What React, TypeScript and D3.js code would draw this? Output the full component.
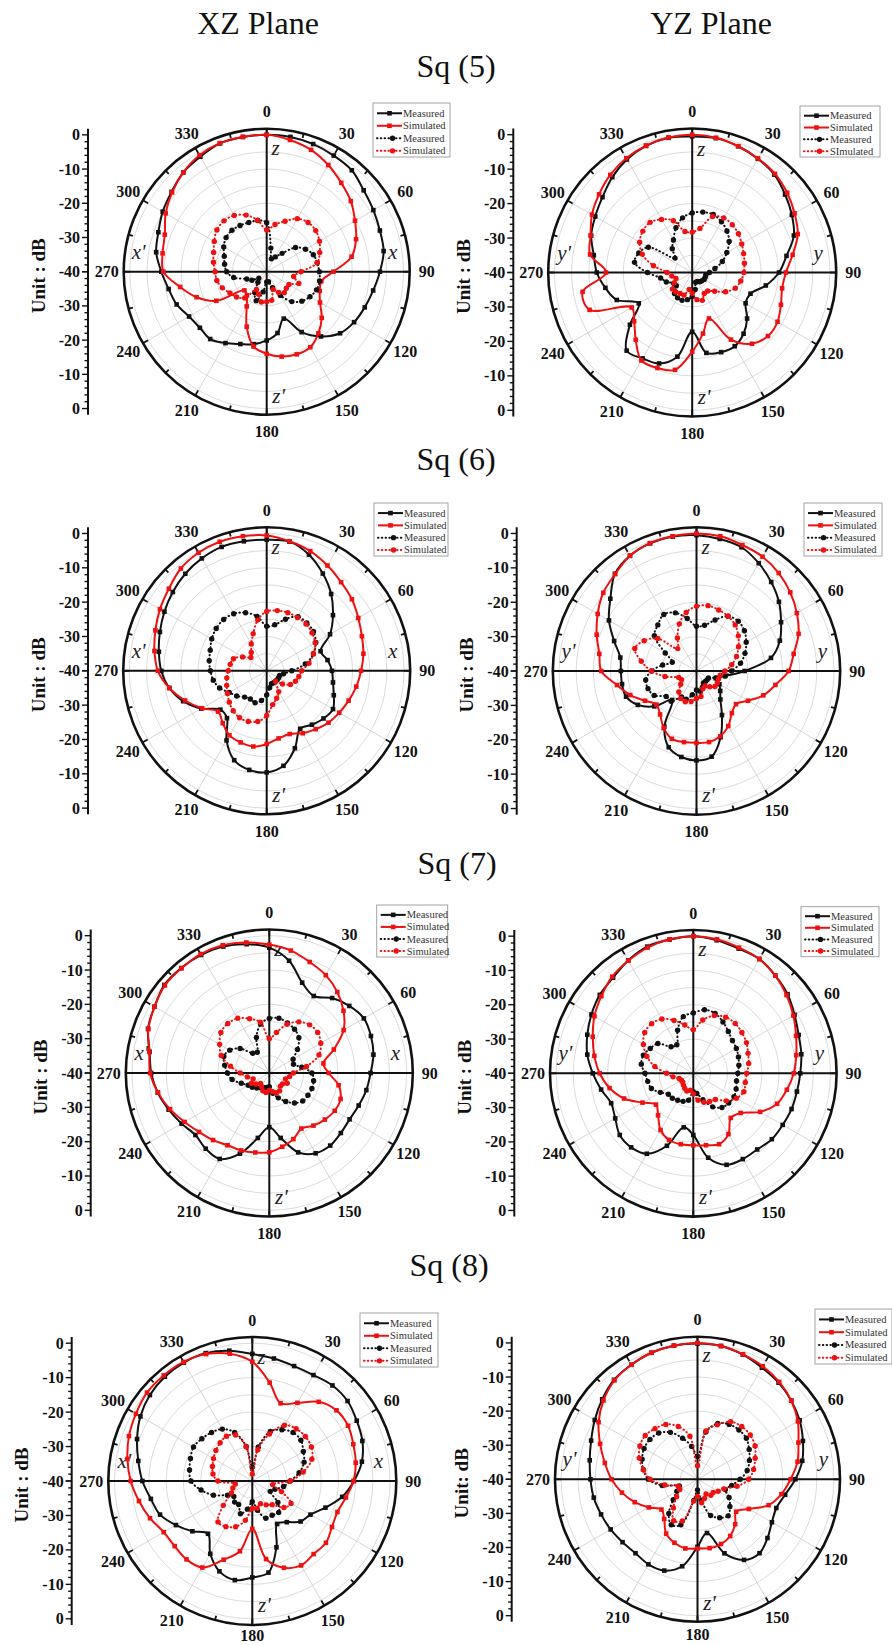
import React, { useEffect, useRef } from 'react';
import * as d3 from 'd3';

// angles of the sampled points (degrees, clockwise from top)
const angles = [
  0, 10, 20, 30, 40, 50, 60, 70, 80, 90,
  100, 110, 120, 130, 140, 150, 160, 170, 180, 190,
  200, 210, 220, 230, 240, 250, 260, 270, 280, 290,
  300, 310, 320, 330, 340, 350,
];
const angleLabels = [0, 30, 60, 90, 120, 150, 180, 210, 240, 270, 300, 330];
const dbTickLabels = [0, -10, -20, -30, -40];
const planeTitles = ['XZ Plane', 'YZ Plane'];
const rowTitles = ['Sq (5)', 'Sq (6)', 'Sq (7)', 'Sq (8)'];
const legendLabels = ['Measured', 'Simulated', 'Measured', 'Simulated'];
const legendLabelsSq5yz = ['Measured', 'Simulated', 'Measured', 'SImulated'];

// ---- Sq (5) XZ
const sq5xzMeasCo = [
  0, 0, -0.3, -0.8, -1.3, -3, -4, -4.8, -5.3, -6.9,
  -8.4, -9.5, -10.5, -12, -15.3, -19.6, -25.4, -21.8, -19.9, -18.5,
  -17.5, -15.9, -14.3, -14.5, -13.8, -12, -10.9, -9.2, -7.2, -6.3,
  -4.9, -3.7, -2.1, -1.2, -0.1, 0,
];
const sq5xzSimCo = [
  0, -0.9, -2.1, -4, -6.1, -7.9, -10.2, -12.2, -14.8, -20.5,
  -23.8, -23.5, -22, -19, -16.5, -14.5, -14.3, -14.8, -16, -17.8,
  -22.9, -28.3, -31, -31.5, -23, -18.2, -14.3, -9.8, -9.1, -8.3,
  -5.9, -3.9, -2.1, -0.7, 0, 0,
];
const sq5xzMeasX = [
  -25.7, -33, -36, -35, -33, -29, -26.9, -25.5, -25, -24.6,
  -24.3, -24.5, -25.4, -26.6, -28.6, -32, -35, -37, -37, -34,
  -31, -33, -36, -37, -35, -33.8, -30.2, -28.3, -27.5, -26.8,
  -25.5, -24.5, -24.2, -24.4, -24.7, -24.8,
];
const sq5xzSimX = [
  -27.8, -26, -24.3, -22.1, -21.2, -21.3, -22.2, -23.5, -25, -30,
  -32, -30, -32.5, -32.5, -32, -33, -34.5, -31.5, -31.2, -31,
  -33, -34, -30, -28.5, -27.6, -26.2, -25.2, -24.9, -24.2, -23.5,
  -22.3, -21, -20.6, -21, -22.4, -24.7,
];

// ---- Sq (5) YZ
const sq5yzMeasCo = [
  -0.5, -0.4, -1, -1.9, -2.9, -4.8, -6.6, -8.6, -12.2, -14.8,
  -18.3, -22, -22.1, -19.2, -16.8, -15.3, -15.4, -16.3, -22.8, -15.2,
  -11.9, -11.2, -10.4, -16.4, -22.1, -16.7, -14.4, -12.3, -11, -8.8,
  -7.5, -6, -3.9, -2.1, -0.9, -0.3,
];
const sq5yzSimCo = [
  0, -0.3, -1, -1.8, -2.6, -4, -5.7, -7.4, -10.4, -12.8,
  -13.5, -12.6, -11.4, -11.3, -13, -17.5, -25.8, -22, -17, -11.3,
  -10.5, -10.5, -14.5, -18, -19.7, -8.3, -7.7, -15, -9.9, -8.6,
  -6.4, -4.7, -3, -1.7, -0.8, -0.2,
];
const sq5yzMeasX = [
  -22.7, -22.2, -22.1, -23, -24.3, -26, -28.4, -30.7, -33.3, -35,
  -36, -36, -36, -36.3, -36.5, -37, -37, -35, -33, -32,
  -31.4, -31.5, -32, -34, -33.8, -32, -30.7, -27, -23, -23.5,
  -25.3, -33.5, -31, -29.1, -26.2, -23.9,
];
const sq5yzSimX = [
  -28.3, -27, -22.7, -21.7, -21.9, -22.5, -23.4, -24.1, -24.6, -25,
  -25.7, -26.7, -28.8, -31.5, -33, -33, -31.4, -32, -34, -35,
  -33, -33, -32.6, -32.5, -34, -35, -34, -32.7, -28.6, -24.6,
  -22.4, -21.3, -21, -22.2, -24, -27.9,
];

// ---- Sq (6) XZ
const sq6xzMeasCo = [
  -1.8, -1.8, -4, -7.3, -10.8, -14.8, -18.7, -23.3, -22, -21,
  -20.4, -19.2, -17.7, -18.4, -19.5, -20.5, -16, -11.9, -10.4, -10.7,
  -12.3, -16.6, -22, -22.4, -18, -14.1, -11.2, -9.3, -8.1, -6.9,
  -5.6, -4.3, -3.1, -2.2, -1.6, -1.7,
];
const sq6xzSimCo = [
  -0.6, -1.7, -2.9, -4.6, -6.3, -7.6, -9.2, -10.5, -11.4, -12.5,
  -13.5, -14.6, -15.6, -16.5, -17.8, -19, -20.4, -20, -18.7, -17.6,
  -17.8, -18.3, -20.1, -21.5, -18.2, -14.7, -11.2, -8.3, -6.8, -5.5,
  -4.1, -2.8, -1.1, -0.3, 0, -0.2,
];
const sq6xzMeasX = [
  -27, -26.4, -24, -21.8, -21.8, -22.2, -23.5, -25.5, -28.6, -32.7,
  -35, -36, -36, -36, -36, -36, -36, -35, -33, -31.2,
  -30.1, -30.5, -30, -28.6, -27.4, -25.4, -24.2, -23.6, -23, -22.5,
  -21.5, -20.8, -20.5, -20.8, -22, -23.9,
];
const sq6xzSimX = [
  -22.7, -22.2, -22, -22.1, -22.2, -22.8, -23.7, -25.5, -27.5, -29.8,
  -30.5, -31.1, -32, -34, -36, -33, -31.5, -30, -27, -25,
  -24.3, -24.2, -24.8, -25.8, -26.8, -27.6, -28.2, -28.8, -29.2, -29.7,
  -31.9, -34, -33, -31, -28.5, -25,
];

// ---- Sq (6) YZ
const sq6yzMeasCo = [
  -0.5, -1, -1.7, -3.8, -6.2, -8.7, -11.6, -14.2, -18, -26,
  -31.6, -34, -32.3, -31, -29.2, -25.2, -19.5, -14.7, -14, -14.6,
  -16.4, -21.3, -29, -24, -20.3, -18.2, -18, -18, -17.5, -14.5,
  -10.6, -7.3, -3.1, -1.3, -0.5, -0.3,
];
const sq6yzSimCo = [
  0, -0.2, -1, -1.6, -2.8, -4.4, -6.3, -8.4, -11.3, -13.2,
  -16.7, -19.3, -22.7, -25, -24, -21.5, -19.8, -19, -19.1, -19,
  -19, -20.9, -23.5, -24.8, -22.7, -19.5, -16.5, -12.3, -11.3, -9.1,
  -6.8, -4.6, -3.2, -1.3, -0.4, -0.2,
];
const sq6yzMeasX = [
  -27, -26.5, -24.2, -21.6, -21.1, -21.8, -23.3, -25, -27, -29.8,
  -31.5, -34, -36, -36, -36, -36, -35, -34, -34.5, -33,
  -31.3, -31.3, -28.5, -28.5, -25.8, -25, -25, -26.9, -30, -32.5,
  -29.5, -24, -22.5, -21, -22, -24.5,
];
const sq6yzSimX = [
  -21.2, -20.7, -21.1, -21.6, -22.5, -24.1, -25.9, -27.6, -29.6, -31.7,
  -33, -33.2, -33, -33, -34, -35, -34.5, -32.5, -32, -31,
  -30.5, -30.8, -32, -34, -35, -34.5, -30.7, -26.9, -23.7, -20.9,
  -22.4, -25.3, -31.5, -28.9, -25.4, -22.7,
];

// ---- Sq (7) XZ
const sq7xzMeasCo = [
  -3.5, -6.8, -12, -14.1, -11.5, -9.6, -8.2, -8.5, -9.2, -10.5,
  -11.3, -12.3, -13, -12.8, -12.4, -13, -15.4, -20.8, -24.2, -20.8,
  -15, -11.1, -11.2, -11.9, -10.5, -8.8, -7, -5.6, -4.6, -2.4,
  -1.4, -0.1, -0.1, -0.3, -0.8, -1.9,
];
const sq7xzSimCo = [
  -2.6, -3.8, -5.6, -7.1, -9.2, -11.8, -15, -20, -24, -22.7,
  -19.5, -17.9, -18, -18.9, -20, -21.3, -19.5, -18.2, -16.9, -16.5,
  -16, -15.7, -14.5, -13.3, -11.5, -9.2, -7.1, -5.3, -4.5, -2.5,
  -1.4, -0.3, -0.2, 0, -0.4, -1.4,
];
const sq7xzMeasX = [
  -24.1, -23.8, -24.5, -25.3, -26.6, -29.3, -32, -32.5, -30.4, -27.6,
  -26.9, -26.8, -27, -27.3, -28.6, -30.4, -32.3, -34, -36, -35.7,
  -35.5, -35, -34.3, -33.5, -32.9, -31.3, -29, -27.8, -26.8, -25.9,
  -26.7, -28.9, -32.5, -33, -29, -25.5,
];
const sq7xzSimX = [
  -30, -28, -24.9, -22.8, -21.7, -21.6, -22.7, -24.6, -29, -33,
  -34, -35, -34, -35, -35, -34, -33.9, -34.5, -35, -34.2,
  -34.5, -35.5, -36, -35, -34, -35, -33.5, -31.5, -28.5, -25.1,
  -23.3, -21.6, -21.2, -21.6, -23.2, -25,
];

// ---- Sq (7) YZ
const sq7yzMeasCo = [
  0, -0.6, -1.3, -1.5, -2.8, -4.1, -5.9, -7.3, -8, -8.8,
  -9.3, -9.5, -9.9, -10.1, -11, -11.1, -11.6, -15, -22, -24,
  -17.5, -12.9, -11.8, -12, -13.7, -14.5, -12.7, -10.7, -8.6, -7.1,
  -5.7, -4.4, -3.6, -2, -0.7, -0.4,
];
const sq7yzSimCo = [
  0, -0.3, -1, -1.5, -2.8, -4.5, -6.3, -8.1, -9.5, -10.7,
  -12.3, -14, -17.5, -22, -23, -19.5, -18, -18.7, -19, -19,
  -19.3, -20.9, -24, -25.8, -22.9, -18.5, -15.2, -12.7, -10.7, -8.8,
  -6.7, -5, -3.2, -2.1, -1, -0.3,
];
const sq7yzMeasX = [
  -22.4, -21.2, -21.4, -22.7, -24.1, -25.1, -25.5, -26, -26.5, -27,
  -27.2, -26.7, -26.3, -26.5, -27, -28.7, -31.8, -34, -34.6, -32,
  -31.3, -30.9, -30.5, -30.5, -28.9, -27, -26.5, -25.9, -24.6, -24.5,
  -25.5, -26.5, -29.9, -30.4, -26.6, -23.2,
];
const sq7yzSimX = [
  -27.3, -24.2, -22.1, -21.1, -21, -21.5, -22.1, -23, -23.6, -24.4,
  -24.6, -24.3, -25.5, -27.5, -30, -30.5, -31, -32, -34, -35,
  -34.5, -35, -35.5, -36, -36, -35.6, -34, -32.2, -28.6, -25.6,
  -23.2, -21.5, -21.1, -21.7, -23.6, -25.7,
];

// ---- Sq (8) XZ
const sq8xzMeasCo = [
  -3.1, -3.9, -4.5, -4.5, -3.8, -3.9, -5, -6, -7.7, -10.5,
  -13.5, -17.4, -20.5, -21.7, -24.4, -25.6, -19.5, -13, -12, -10.8,
  -12.1, -15.6, -20, -17.3, -14.4, -11.5, -10.1, -8.1, -6.4, -4.4,
  -2.5, -1.2, -0.5, -0.3, -0.5, -1.6,
];
const sq8xzSimCo = [
  -5.4, -11, -16, -13.8, -10, -8.1, -7.9, -8.8, -9.5, -10.6,
  -12.4, -13.7, -13.3, -12.1, -12.3, -11.7, -13.2, -17, -26.1, -19.3,
  -15.7, -11, -10.3, -10.6, -10.3, -8.4, -6.6, -4.7, -3.2, -1.9,
  -1, -0.1, 0, -0.1, -0.8, -2.5,
];
const sq8xzMeasX = [
  -36, -30, -24.7, -22.8, -21.6, -21.6, -22.9, -24, -26.2, -29,
  -30.8, -33, -34, -30.3, -28.1, -28.5, -28.5, -31.4, -34, -31.7,
  -29.9, -32.1, -32, -33, -31.7, -28, -24.9, -22.2, -21.5, -20.9,
  -20.3, -20.9, -21.6, -22.6, -25, -29.8,
];
const sq8xzSimX = [
  -38, -30.8, -25.5, -21.3, -20.2, -19.9, -20.2, -21.6, -25, -29,
  -34, -31, -27, -28, -31, -32, -33, -32, -32, -28.4,
  -25.9, -24.7, -24.5, -29, -33, -34, -35, -30, -28.4, -27.7,
  -27, -26.2, -25.5, -25, -25.8, -30,
];

// ---- Sq (8) YZ
const sq8yzMeasCo = [
  -0.2, -0.3, -1.1, -2.2, -3, -4.1, -5.4, -7.1, -8.8, -11.3,
  -13.9, -15.4, -14.8, -13.2, -11.7, -12.7, -16.9, -24, -20.2, -14.1,
  -11.5, -11.2, -11.7, -11.3, -10.6, -9.9, -9.1, -8.6, -7.9, -6.8,
  -5.2, -3.5, -1.9, -1.2, -0.5, -0.2,
];
const sq8yzSimCo = [
  0, -0.3, -1, -1.7, -2.7, -4.1, -6, -8.5, -10.2, -12.7,
  -15, -17.8, -22.6, -25.2, -22.8, -20.8, -19.8, -19.5, -19.7, -19.4,
  -20.2, -21.6, -24.8, -26.2, -23.5, -20.4, -17.5, -14.8, -12.4, -9.6,
  -6.5, -4, -2.1, -1.2, -0.5, -0.2,
];
const sq8yzMeasX = [
  -33.3, -25.9, -22.6, -21.4, -21.1, -21.3, -22.5, -23.8, -25.2, -27.5,
  -29.8, -31.3, -29.3, -27.6, -26, -27, -28.7, -33.8, -36.9, -33.7,
  -25.8, -24.6, -26.9, -30.7, -33, -34.3, -29.5, -25.6, -23.9, -22.7,
  -21.9, -21.8, -22.3, -24.1, -27.2, -30.2,
];
const sq8yzSimX = [
  -36, -25.6, -23, -20.5, -19.8, -19.8, -20.5, -22, -23.3, -25,
  -28.2, -31.8, -33, -34, -33.9, -35, -34, -33, -35, -33.5,
  -27, -26, -29, -32, -34, -34, -30.3, -26.1, -23.9, -21.8,
  -20.5, -20, -20.6, -21.4, -23.5, -27.2,
];

const FONT = '"Liberation Serif", "Times New Roman", serif';
const BLACK = '#111111';
const RED = '#ee1111';
const H = 1645;

const seriesStyles = [
  { color: BLACK, dotted: false },
  { color: RED, dotted: false },
  { color: BLACK, dotted: true },
  { color: RED, dotted: true },
];

// layout of the eight polar panels
const panels = [
  { cx: 266.7, cy: 271.7, R: 143, axisX: 88, legend: [373, 103, 77, 54], plane: 'x', unit: 'Unit : dB', names: legendLabels,
    series: [sq5xzMeasCo, sq5xzSimCo, sq5xzMeasX, sq5xzSimX] },
  { cx: 692.2, cy: 272.5, R: 144, axisX: 513.3, legend: [800, 106, 80, 51], plane: 'y', unit: 'Unit : dB', names: legendLabelsSq5yz,
    series: [sq5yzMeasCo, sq5yzSimCo, sq5yzMeasX, sq5yzSimX] },
  { cx: 266.7, cy: 670.8, R: 143.5, axisX: 88, legend: [374, 503, 74, 53], plane: 'x', unit: 'Unit : dB', names: legendLabels,
    series: [sq6xzMeasCo, sq6xzSimCo, sq6xzMeasX, sq6xzSimX] },
  { cx: 696.5, cy: 671, R: 143.7, axisX: 516.7, legend: [804, 503, 78, 53], plane: 'y', unit: 'Unit : dB', names: legendLabels,
    series: [sq6yzMeasCo, sq6yzSimCo, sq6yzMeasX, sq6yzSimX] },
  { cx: 269.3, cy: 1073, R: 143.5, axisX: 90.7, legend: [376.7, 905, 71, 52], plane: 'x', unit: 'Unit : dB', names: legendLabels,
    series: [sq7xzMeasCo, sq7xzSimCo, sq7xzMeasX, sq7xzSimX] },
  { cx: 693.3, cy: 1073.3, R: 143.3, axisX: 514.3, legend: [801, 906.7, 78, 50], plane: 'y', unit: 'Unit : dB', names: legendLabels,
    series: [sq7yzMeasCo, sq7yzSimCo, sq7yzMeasX, sq7yzSimX] },
  { cx: 252.3, cy: 1481, R: 144, axisX: 71.7, legend: [360, 1313, 78, 54], plane: 'x', unit: 'Unit : dB', names: legendLabels,
    series: [sq8xzMeasCo, sq8xzSimCo, sq8xzMeasX, sq8xzSimX] },
  { cx: 697.5, cy: 1479.3, R: 142.5, axisX: 511.7, legend: [815, 1309, 77, 55], plane: 'y', unit: 'Unit: dB', names: legendLabels,
    series: [sq8yzMeasCo, sq8yzSimCo, sq8yzMeasX, sq8yzSimX] },
];

const titlePos = [
  [258, 34], [711, 34],
];
const rowPos = [
  [456, 77], [456, 470], [457, 874], [449, 1276],
];

const rad = (a: number) => (a * Math.PI) / 180;

function drawPanel(svg: any, p: any) {
  const r0 = p.R * 0.957;
  const r = d3.scaleLinear().domain([-40, 0]).range([0, r0]).clamp(true);
  const g = svg.append('g').attr('transform', `translate(${p.cx},${p.cy})`);

  // grid rings
  g.append('g')
    .selectAll('circle')
    .data(r.ticks(8).filter((d: number) => d > -40))
    .join('circle')
    .attr('r', (d: number) => r(d))
    .attr('fill', 'none')
    .attr('stroke', '#cccccc')
    .attr('stroke-width', 0.7);

  // spokes
  g.append('g')
    .selectAll('line')
    .data(angleLabels)
    .join('line')
    .attr('x1', 0).attr('y1', 0)
    .attr('x2', (a: number) => p.R * Math.sin(rad(a)))
    .attr('y2', (a: number) => -p.R * Math.cos(rad(a)))
    .attr('stroke', '#c4c4c4')
    .attr('stroke-width', 0.7);

  // crosshair
  g.append('line').attr('x1', -p.R).attr('x2', p.R).attr('y1', 0).attr('y2', 0)
    .attr('stroke', BLACK).attr('stroke-width', 2);
  g.append('line').attr('x1', 0).attr('x2', 0).attr('y1', -p.R).attr('y2', p.R)
    .attr('stroke', BLACK).attr('stroke-width', 2);

  // outer ring + ticks
  g.append('circle').attr('r', p.R).attr('fill', 'none')
    .attr('stroke', BLACK).attr('stroke-width', 2.6);
  g.append('g')
    .selectAll('line')
    .data(d3.range(0, 360, 15))
    .join('line')
    .attr('x1', (a: number) => p.R * Math.sin(rad(a)))
    .attr('y1', (a: number) => -p.R * Math.cos(rad(a)))
    .attr('x2', (a: number) => (p.R - (a % 30 === 0 ? 6 : 4.5)) * Math.sin(rad(a)))
    .attr('y2', (a: number) => -(p.R - (a % 30 === 0 ? 6 : 4.5)) * Math.cos(rad(a)))
    .attr('stroke', BLACK)
    .attr('stroke-width', 1.8);

  // angle labels (kept inside the page at the bottom edge)
  g.append('g')
    .selectAll('text')
    .data(angleLabels)
    .join('text')
    .attr('x', (a: number) => (p.R + 17) * Math.sin(rad(a)))
    .attr('y', (a: number) => Math.min(-(p.R + 17) * Math.cos(rad(a)), H - 10 - p.cy))
    .attr('text-anchor', 'middle')
    .attr('dominant-baseline', 'central')
    .attr('font-family', FONT)
    .attr('font-weight', 'bold')
    .attr('font-size', 16)
    .attr('fill', BLACK)
    .text((a: number) => String(a));

  // axis letters
  const letters = [
    { t: 'z', x: 9, y: -117 },
    { t: "z'", x: 12, y: 131 },
    { t: `${p.plane}'`, x: -128, y: -13 },
    { t: p.plane, x: 126, y: -13 },
  ];
  g.append('g')
    .selectAll('text')
    .data(letters)
    .join('text')
    .attr('x', (d: any) => d.x)
    .attr('y', (d: any) => d.y)
    .attr('text-anchor', 'middle')
    .attr('font-family', FONT)
    .attr('font-style', 'italic')
    .attr('font-size', 21)
    .attr('fill', '#222')
    .text((d: any) => d.t);

  // series
  const line = d3.lineRadial<any>()
    .angle((d: any) => rad(d.a))
    .radius((d: any) => r(d.v))
    .curve(d3.curveCatmullRomClosed.alpha(0.5));

  p.series.forEach((vals: number[], si: number) => {
    const st = seriesStyles[si];
    const pts = angles.map((a, i) => ({ a, v: vals[i] }));
    g.append('path')
      .attr('d', line(pts))
      .attr('fill', 'none')
      .attr('stroke', st.color)
      .attr('stroke-width', 2)
      .attr('stroke-linecap', st.dotted ? 'round' : 'butt')
      .attr('stroke-dasharray', st.dotted ? '0.5,3.3' : null);
    const mk = g.append('g').attr('fill', st.color);
    if (st.dotted) {
      mk.selectAll('circle').data(pts).join('circle')
        .attr('cx', (d: any) => r(d.v) * Math.sin(rad(d.a)))
        .attr('cy', (d: any) => -r(d.v) * Math.cos(rad(d.a)))
        .attr('r', 2.7);
    } else {
      mk.selectAll('rect').data(pts).join('rect')
        .attr('x', (d: any) => r(d.v) * Math.sin(rad(d.a)) - 2.3)
        .attr('y', (d: any) => -r(d.v) * Math.cos(rad(d.a)) - 2.3)
        .attr('width', 4.6)
        .attr('height', 4.6);
    }
  });

  // left radial axis
  const ax = svg.append('g');
  ax.append('line')
    .attr('x1', p.axisX).attr('x2', p.axisX)
    .attr('y1', p.cy - p.R).attr('y2', p.cy + p.R)
    .attr('stroke', BLACK).attr('stroke-width', 2);
  const minor = r.ticks(20);
  [-1, 1].forEach((side) => {
    ax.append('g')
      .selectAll('line')
      .data(minor)
      .join('line')
      .attr('x1', p.axisX)
      .attr('x2', (d: number) => p.axisX - (d % 10 === 0 ? 6 : 3.5))
      .attr('y1', (d: number) => p.cy + side * r(d))
      .attr('y2', (d: number) => p.cy + side * r(d))
      .attr('stroke', BLACK)
      .attr('stroke-width', 1.4);
    ax.append('g')
      .selectAll('text')
      .data(side < 0 ? dbTickLabels : dbTickLabels.slice(0, 4))
      .join('text')
      .attr('x', p.axisX - 8)
      .attr('y', (d: number) => p.cy + side * r(d))
      .attr('text-anchor', 'end')
      .attr('dominant-baseline', 'central')
      .attr('font-family', FONT)
      .attr('font-weight', 'bold')
      .attr('font-size', 16)
      .attr('fill', BLACK)
      .text((d: number) => String(d));
  });
  ax.append('text')
    .attr('transform', `translate(${p.axisX - 50},${p.cy + 4}) rotate(-90)`)
    .attr('text-anchor', 'middle')
    .attr('dominant-baseline', 'central')
    .attr('font-family', FONT)
    .attr('font-weight', 'bold')
    .attr('font-size', 19)
    .attr('fill', BLACK)
    .text(p.unit);

  // legend
  const [lx, ly, lw, lh] = p.legend;
  const lg = svg.append('g');
  lg.append('rect').attr('x', lx).attr('y', ly).attr('width', lw).attr('height', lh)
    .attr('fill', '#fff').attr('stroke', '#9a9a9a').attr('stroke-width', 0.9);
  const step = lh * 0.232;
  p.names.forEach((name: string, i: number) => {
    const st = seriesStyles[i];
    const yy = ly + lh * 0.19 + i * step;
    const x0 = lx + 4;
    const x1 = lx + 29;
    lg.append('line').attr('x1', x0).attr('x2', x1).attr('y1', yy).attr('y2', yy)
      .attr('stroke', st.color)
      .attr('stroke-width', 2)
      .attr('stroke-linecap', st.dotted ? 'round' : 'butt')
      .attr('stroke-dasharray', st.dotted ? '0.5,3.3' : null);
    if (st.dotted) {
      lg.append('circle').attr('cx', (x0 + x1) / 2 + 3).attr('cy', yy).attr('r', 2.7).attr('fill', st.color);
    } else {
      lg.append('rect').attr('x', (x0 + x1) / 2 - 2.3).attr('y', yy - 2.3)
        .attr('width', 4.6).attr('height', 4.6).attr('fill', st.color);
    }
    lg.append('text')
      .attr('x', x1 + 1)
      .attr('y', yy)
      .attr('dominant-baseline', 'central')
      .attr('font-family', FONT)
      .attr('font-size', 10.5)
      .attr('fill', '#333')
      .text(name);
  });
}

export default function App() {
  const ref = useRef<SVGSVGElement | null>(null);

  useEffect(() => {
    const svg = d3.select(ref.current);
    svg.selectAll('*').remove();
    svg.append('rect').attr('width', 892).attr('height', H).attr('fill', '#ffffff');

    svg.append('g')
      .selectAll('text')
      .data(planeTitles)
      .join('text')
      .attr('x', (_d: string, i: number) => titlePos[i][0])
      .attr('y', (_d: string, i: number) => titlePos[i][1])
      .attr('text-anchor', 'middle')
      .attr('font-family', FONT)
      .attr('font-size', 32)
      .attr('fill', '#111')
      .text((d: string) => d);

    svg.append('g')
      .selectAll('text')
      .data(rowTitles)
      .join('text')
      .attr('x', (_d: string, i: number) => rowPos[i][0])
      .attr('y', (_d: string, i: number) => rowPos[i][1])
      .attr('text-anchor', 'middle')
      .attr('font-family', FONT)
      .attr('font-size', 32)
      .attr('fill', '#111')
      .text((d: string) => d);

    panels.forEach((p) => drawPanel(svg, p));
  }, []);

  return (
    <div style={{ position: 'absolute', left: 0, top: 0 }}>
      <svg ref={ref} width={892} height={H} style={{ display: 'block' }} />
    </div>
  );
}
